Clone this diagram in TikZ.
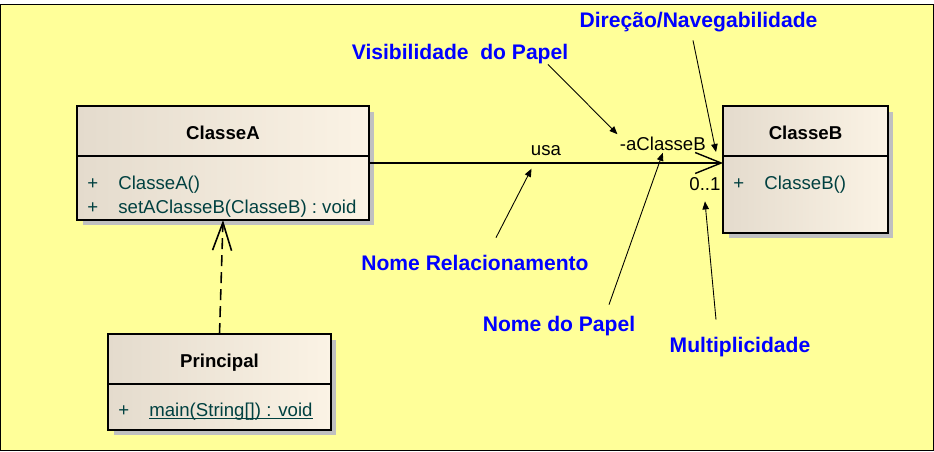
\documentclass[tikz,border=0pt]{standalone}
\usepackage{fontspec}
\setmainfont{Liberation Sans}
\usetikzlibrary{positioning,shadows,arrows.meta}

\definecolor{bgyellow}{HTML}{FFFF99}
\definecolor{clsleft}{HTML}{E4DBCD}
\definecolor{clsright}{HTML}{FBF3E5}
\definecolor{mbrcol}{HTML}{004040}
\definecolor{shadowgray}{HTML}{C0C0C0}
\definecolor{notecol}{HTML}{0000FF}

\newcommand{\mbr}[1]{\makebox[0.62cm][l]{+}#1}
\newcommand{\ulmeth}[1]{\setbox0\hbox{#1}\rlap{\rule[-1.2pt]{\wd0}{0.5pt}}\box0}

\tikzset{
  cls/.style={draw=black, line width=1.1pt, outer sep=0pt, left color=clsleft, right color=clsright,
    drop shadow={shadow xshift=0.11cm, shadow yshift=-0.11cm, fill=shadowgray, opacity=1}},
  clshead/.style={cls, minimum height=1cm, font=\fontsize{10.6}{13.3}\selectfont\bfseries,
    text height=10pt, text depth=0pt},
  clsbody/.style={cls},
  member/.style={anchor=base west, inner sep=0pt, text=mbrcol, font=\fontsize{10.6}{13.3}\selectfont},
  lbl/.style={inner sep=1pt, font=\fontsize{10.6}{13.3}\selectfont},
  note/.style={inner sep=0pt, text=notecol, font=\fontsize{12}{14}\selectfont\bfseries,
    text height=9pt, text depth=2.4pt},
  assoc/.style={line width=0.8pt, -{Straight Barb[length=0.52cm,width=0.42cm]}},
  dep/.style={line width=0.9pt, dash pattern=on 0.22cm off 0.12cm, -{Straight Barb[length=0.56cm,width=0.38cm]}},
  ptr/.style={line width=0.5pt, -{Triangle[length=0.16cm,width=0.13cm]}},
}

\begin{document}
\begin{tikzpicture}[x=0.02cm, y=-0.02cm]
  \useasboundingbox (0,0) rectangle (934,451);
  \draw[line width=0.75pt, fill=bgyellow] (0.65,4.65) rectangle (933.3,450.3);

  % classes
  \node[clshead, minimum width=5.84cm] (A) at (223,131) {ClasseA};
  \node[clsbody, minimum width=5.84cm, minimum height=1.28cm, below=0pt of A] (Ab) {};
  \node[member] (Am) at ([xshift=0.2cm,yshift=-0.68cm]Ab.north west)
    {\begin{tabular}[t]{@{}l@{}}\mbr{ClasseA()}\\\mbr{setAClasseB(ClasseB) : void}\end{tabular}};

  \node[clshead, minimum width=3.3cm] (B) at (805.5,131) {ClasseB};
  \node[clsbody, minimum width=3.3cm, minimum height=1.54cm, below=0pt of B] (Bb) {};
  \node[member] (Bm) at ([xshift=0.2cm,yshift=-0.67cm]Bb.north west) {\mbr{ClasseB()}};

  \node[clshead, minimum width=4.46cm] (P) at (219.5,359) {Principal};
  \node[clsbody, minimum width=4.46cm, minimum height=0.92cm, below=0pt of P] (Pb) {};
  \node[member] (Pm) at ([xshift=0.2cm,yshift=-0.66cm]Pb.north west) {\mbr{\ulmeth{main(String[]) : void}}};

  % relations
  \draw[assoc] ([yshift=-0.14cm]Ab.north east) -- ([yshift=-0.14cm]Bb.north west)
    node[lbl, midway, above=3pt] (usa) {usa}
    node[lbl, pos=0.83, above=5.8pt] (role) {-aClasseB}
    node[lbl, pos=0.949, below=7pt] (card) {0..1};
  \draw[dep] (P.north) -- (Ab.south);

  % notes
  \node[note] (dir) at (698.5,22) {Direção/Navegabilidade};
  \node[note] (vis) at (460,54) {Visibilidade\ \ do Papel};
  \node[note] (nrel) at (475,265) {Nome Relacionamento};
  \node[note] (npap) at (559,326) {Nome do Papel};
  \node[note] (mult) at (740,347) {Multiplicidade};

  \draw[ptr] ([xshift=1.76cm]vis.south) -- (role.north west);
  \draw[ptr] ([xshift=-0.11cm,yshift=-0.16cm]dir.south) -- ([xshift=-0.14cm,yshift=0.08cm]Bb.north west);
  \draw[ptr] ([xshift=0.42cm,yshift=0.34cm]nrel.north) -- ([xshift=0.06cm,yshift=-0.22cm]usa.south west);
  \draw[ptr] ([xshift=1cm,yshift=0.22cm]npap.north) -- (role.south);
  \draw[ptr] ([xshift=-0.48cm,yshift=0.34cm]mult.north) -- ([yshift=-0.16cm]card.south);
\end{tikzpicture}
\end{document}
